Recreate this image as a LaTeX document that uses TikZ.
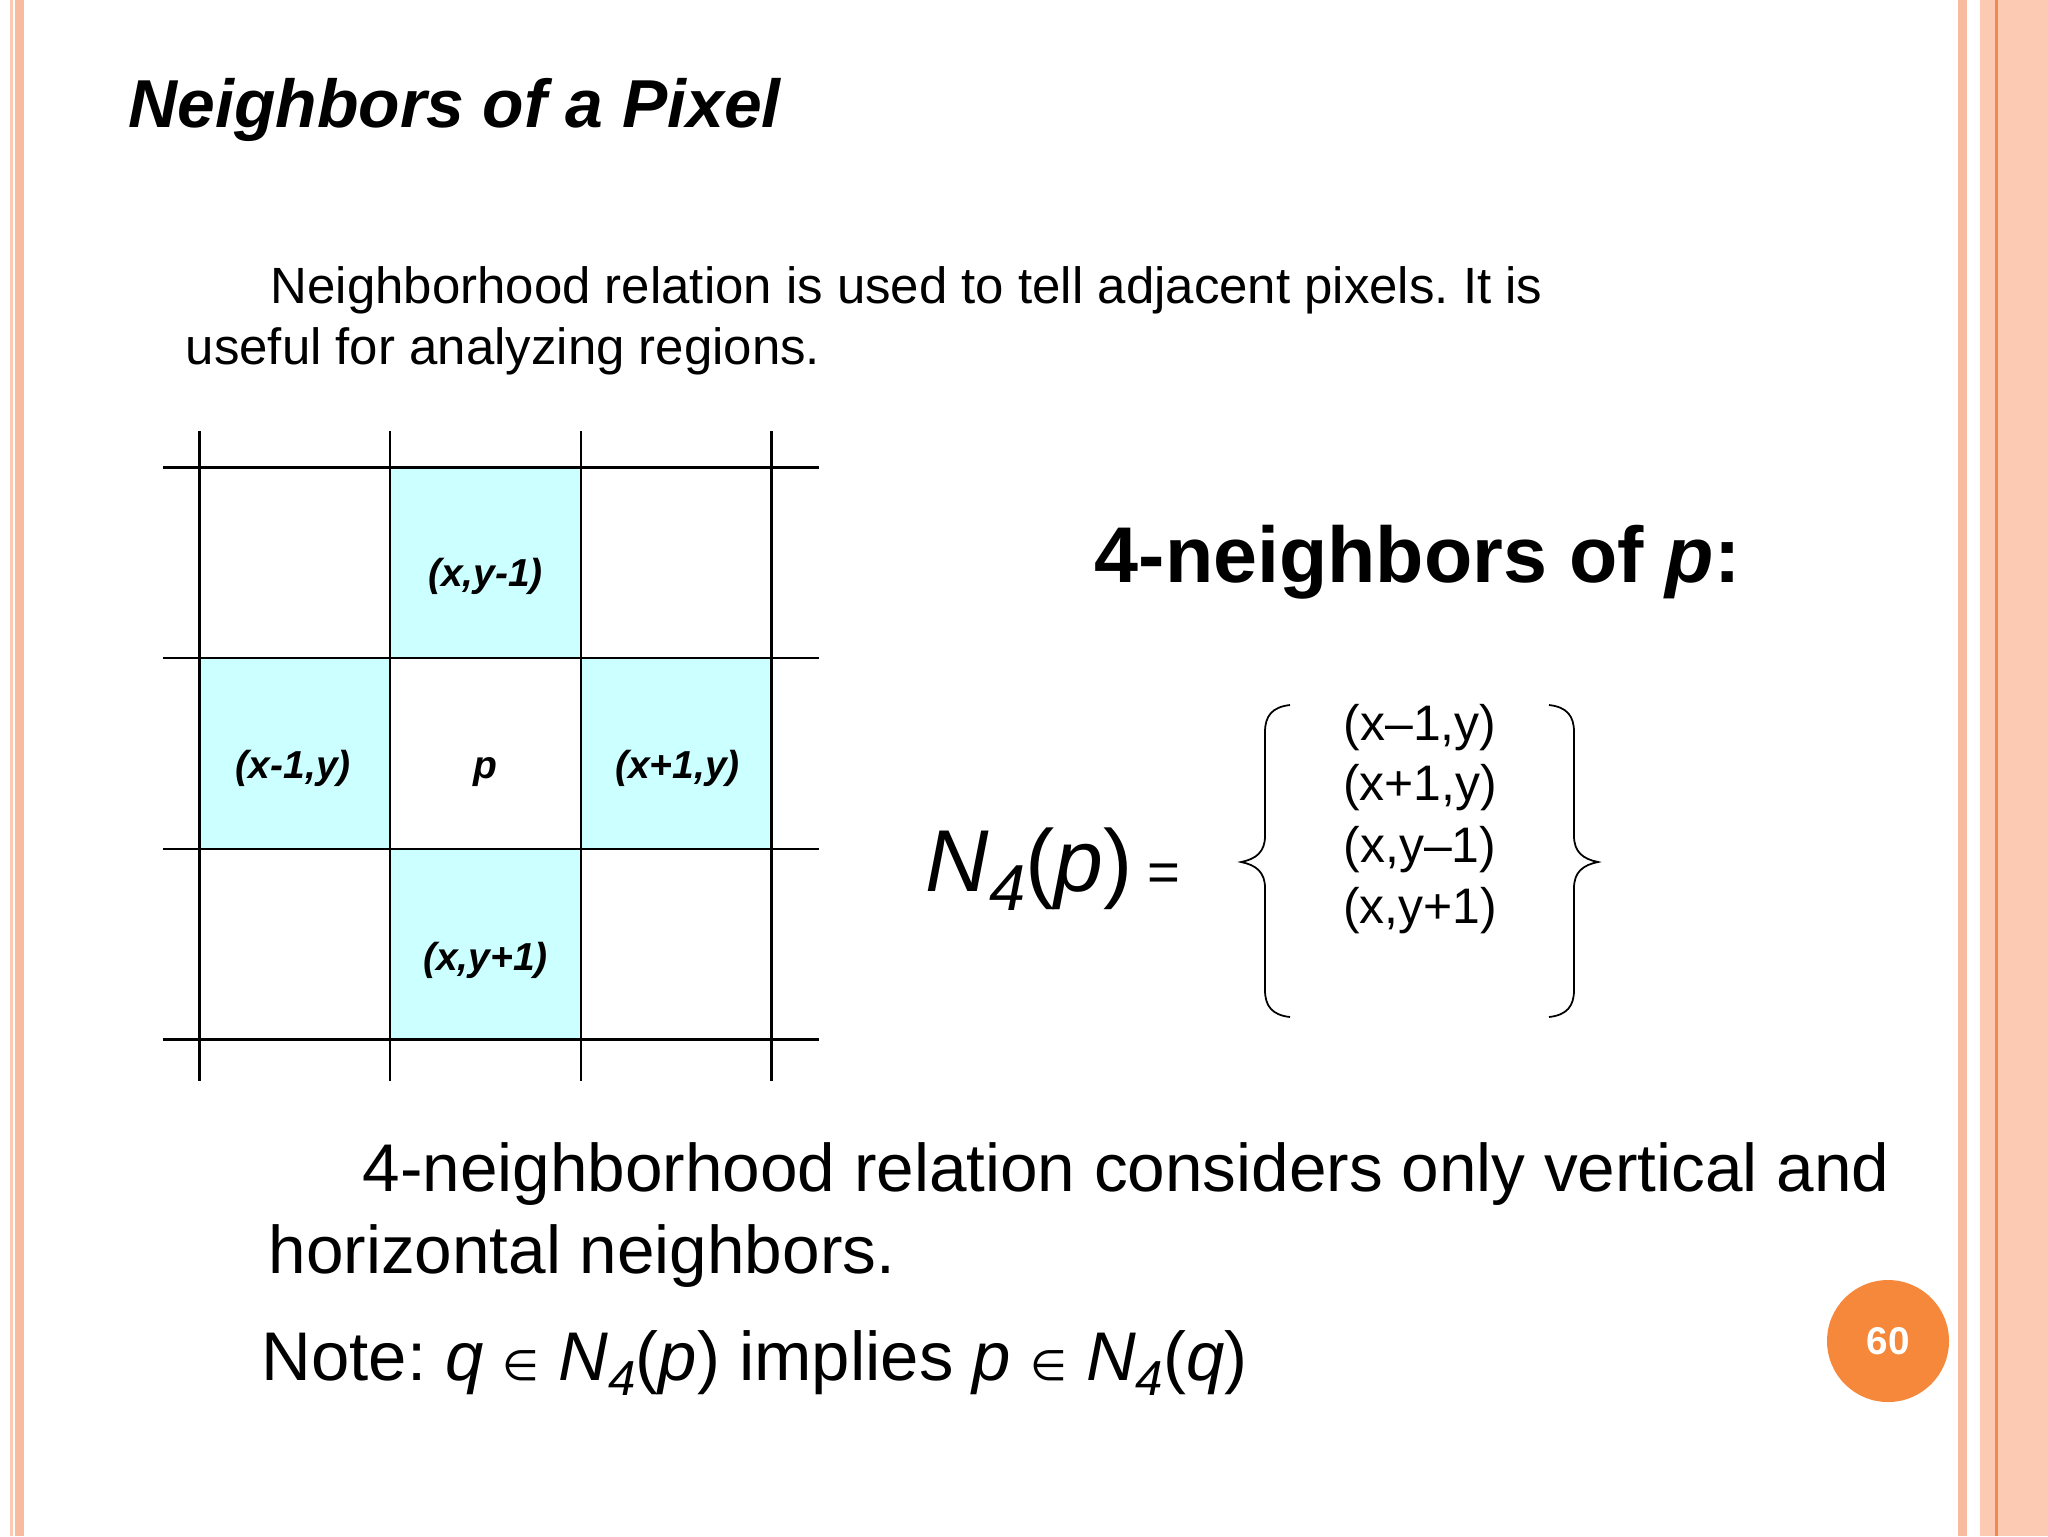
\documentclass[tikz,border=0pt]{standalone}
\usepackage{fontspec}
\setmainfont{Liberation Sans}
\newfontfamily\symfont{DejaVu Sans}
\usetikzlibrary{positioning}
\frenchspacing
\definecolor{cellcyan}{HTML}{CCFFFF}
\definecolor{stripe}{HTML}{F9BBA0}
\definecolor{stripelight}{HTML}{FCC9B3}
\definecolor{stripeline}{HTML}{EE8A50}
\definecolor{badge}{HTML}{F6883B}
\newcommand{\elem}{{\symfont\fontsize{12}{14}\selectfont ∈}}
\newcommand{\subfour}[1]{\raisebox{-#1}{\itshape 4}}
\tikzset{
    slide/.style={x=0.1mm,y=-0.1mm},
    textline/.style={inner sep=0pt,anchor=base west},
    heading/.style={textline,font=\fontsize{19.3}{23}\selectfont\bfseries\itshape},
    body/.style={textline,font=\fontsize{14.5}{18}\selectfont},
    large/.style={textline,font=\fontsize{19.2}{24}\selectfont},
    cell/.style={minimum width=19.07mm,minimum height=19.07mm,inner sep=0pt,
        text height=5mm,text depth=0pt,font=\fontsize{11.1}{13}\selectfont\bfseries\itshape},
    nbcell/.style={cell,fill=cellcyan},
    tuple/.style={inner sep=0pt,anchor=base,font=\fontsize{14.2}{17}\selectfont},
    gridline/.style={line width=0.6pt},
    curly/.style={line width=0.5pt}
}

\begin{document}
\begin{tikzpicture}[slide]
    \useasboundingbox (0,0) rectangle (2048,1536);
    % side stripes
    \fill[stripelight] (10,0) rectangle (13,1536);
    \fill[stripe] (15,0) rectangle (24,1536);
    \fill[stripe] (1958,0) rectangle (1967,1536);
    \fill[stripelight] (1980,0) rectangle (2048,1536);
    \draw[stripeline,line width=0.6pt] (1996.5,0) -- (1996.5,1536);

    \node[heading] (title) at (128,127) {Neighbors of a Pixel};
    \node[body] (intro1) at (270,303) {Neighborhood relation is used to tell adjacent pixels. It is};
    \node[body] (intro2) at (185,364) {useful for analyzing regions.};

    % pixel grid
    \node[cell] (p) at (485.5,753.5) {p};
    \node[nbcell,above=0pt of p] (up) {(x,y-1)};
    \node[nbcell,below=0pt of p] (down) {(x,y+1)};
    \node[nbcell,left=0pt of p] (left) {(x-1,y)};
    \node[nbcell,right=0pt of p] (right) {(x+1,y)};
    \foreach \x in {199.5,390.2,580.8,771.5}
        \draw[gridline] (\x,431) -- (\x,1081);
    \foreach \y in {467.5,658.2,848.8,1039.5}
        \draw[gridline] (163,\y) -- (819,\y);

    \node[textline,font=\fontsize{22.5}{27}\selectfont\bfseries] (nhead) at (1094,582) {4-neighbors of \textit{p}:};

    % N4(p) = { ... }
    \node[textline,font=\fontsize{25}{30}\selectfont] (n4) at (925,891)
        {\textit{N}\fontsize{18.5}{20}\selectfont\subfour{1.9mm}\fontsize{25}{30}\selectfont(\textit{p})};
    \node[textline,font=\fontsize{16}{18}\selectfont] (eq) at (1147,891) {=};
    \draw[curly] (1290,705) .. controls (1272,707) and (1265,716) .. (1265,732) -- (1265,836)
        .. controls (1265,852) and (1256,859) .. (1241,862) .. controls (1256,865) and (1265,872) .. (1265,888)
        -- (1265,990) .. controls (1265,1006) and (1272,1015) .. (1290,1017);
    \draw[curly] (1549,705) .. controls (1567,707) and (1574,716) .. (1574,732) -- (1574,836)
        .. controls (1574,852) and (1583,859) .. (1598,862) .. controls (1583,865) and (1574,872) .. (1574,888)
        -- (1574,990) .. controls (1574,1006) and (1567,1015) .. (1549,1017);
    \node[tuple] (t1) at (1420,740) {(x–1,y)};
    \node[tuple] (t2) at (1420,800) {(x+1,y)};
    \node[tuple] (t3) at (1420,862) {(x,y–1)};
    \node[tuple] (t4) at (1420,923) {(x,y+1)};

    \node[large] (rel1) at (362,1191) {4-neighborhood relation considers only vertical and};
    \node[large] (rel2) at (268,1273) {horizontal neighbors.};
    \node[large,font=\fontsize{19.6}{24}\selectfont] (note) at (261,1380) {Note: \textit{q} \elem\ \textit{N}{\fontsize{14}{16}\selectfont\subfour{1.5mm}}(\textit{p}) implies \textit{p} \elem\ \textit{N}{\fontsize{14}{16}\selectfont\subfour{1.5mm}}(\textit{q})};

    % page badge
    \node[circle,fill=badge,minimum size=12.2mm,inner sep=0pt,text=white,
        font=\fontsize{11}{13}\selectfont\bfseries] (page) at (1888,1341) {60};
\end{tikzpicture}
\end{document}
